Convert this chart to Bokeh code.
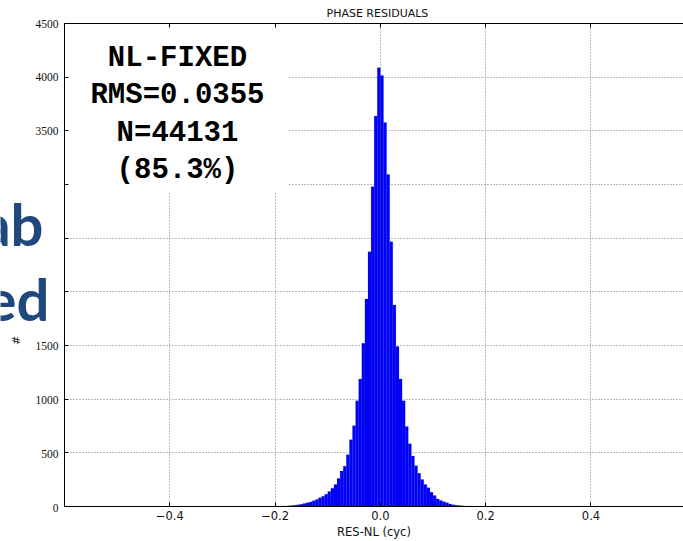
import numpy as np
from bokeh.plotting import figure
from bokeh.layouts import row, column
from bokeh.models import (Range1d, LinearAxis, FixedTicker, BoxAnnotation, Label, LabelSet,
                          ColumnDataSource, Title)
from bokeh.embed import file_html
from bokeh.resources import INLINE

# ---------------- data ----------------
first_edge = -0.2          # left edge of first histogram bin (cycles)
bin_width = 1.0 / 170      # bin width (cycles)
counts = [2, 3, 4, 5, 7, 9, 12, 16, 21, 27, 34, 43, 54, 66, 82, 96, 115, 140, 170, 205,
          260, 330, 375, 483, 623, 753, 985, 1187, 1522, 1934, 2374, 2978, 3638, 4088,
          4016, 3577, 3093, 2467, 1878, 1490, 1187, 985, 745, 585, 470, 380, 310, 251,
          205, 174, 133, 102, 71, 55, 45, 34, 24, 16, 12, 9, 7, 5, 4, 3, 2]
x_ticks = [-0.4, -0.2, 0.0, 0.2, 0.4]
x_tick_labels = ["\u22120.4", "\u22120.2", "0.0", "0.2", "0.4"]
y_ticks = [0, 500, 1000, 1500, 2000, 2500, 3000, 3500, 4000, 4500]
y_hidden = [2000, 2500, 3000]   # labels covered in the original picture
title_text = "PHASE RESIDUALS"
x_label = "RES-NL (cyc)"
y_label = "#"
info_lines = ["NL-FIXED", "RMS=0.0355", "N=44131", "(85.3%)"]
slide_words = ["ab", "ed"]

edges = first_edge + bin_width * np.arange(len(counts) + 1)
src = ColumnDataSource(dict(left=edges[:-1], right=edges[1:], top=counts))
y_shown = [t for t in y_ticks if t not in y_hidden]

# ---------------- layout numbers ----------------
H = 541
LEFT_W = 64
MAIN_W = 683 - LEFT_W
BORDER_TOP, BORDER_BOTTOM = 23, 34
y_lo, y_hi = 0, 4500
frame_h = H - BORDER_TOP - BORDER_BOTTOM
units_per_px = (y_hi - y_lo) / frame_h

# ---------------- main figure ----------------
p = figure(width=MAIN_W, height=H, output_backend="svg", toolbar_location=None,
           x_range=Range1d(-0.6, 0.5757), y_range=Range1d(y_lo, y_hi),
           min_border_left=0, min_border_right=0,
           min_border_top=BORDER_TOP, min_border_bottom=BORDER_BOTTOM)
p.background_fill_color = "white"
p.border_fill_color = "white"
p.outline_line_color = None

p.quad(left="left", right="right", bottom=0, top="top", source=src,
       fill_color="#0000ff", line_color="#000080", line_width=0.5, line_alpha=0.3)

xa = p.xaxis[0]
xa.ticker = FixedTicker(ticks=x_ticks)
xa.major_label_overrides = {t: l for t, l in zip(x_ticks, x_tick_labels)}
xa.axis_line_color = "black"
xa.major_tick_in = 4
xa.major_tick_out = 0
xa.minor_tick_line_color = None
xa.major_label_text_font = "DejaVu Sans"
xa.major_label_text_font_size = "11.5px"
xa.major_label_text_color = "#111111"
xa.major_label_standoff = 4
xa.axis_label = x_label
xa.axis_label_text_font = "DejaVu Sans"
xa.axis_label_text_font_size = "11.5px"
xa.axis_label_text_font_style = "normal"
xa.axis_label_text_color = "#111111"
xa.axis_label_standoff = 2

ya = p.yaxis[0]
ya.ticker = FixedTicker(ticks=[], minor_ticks=y_ticks)
ya.axis_line_color = "black"
ya.major_tick_in = 0
ya.major_tick_out = 0
ya.minor_tick_in = 4
ya.minor_tick_out = 0
ya.minor_tick_line_color = "black"
ya.major_label_standoff = 0

top_axis = LinearAxis(ticker=FixedTicker(ticks=[], minor_ticks=x_ticks),
                      minor_tick_in=4, minor_tick_out=0, minor_tick_line_color="black",
                      major_tick_in=0, major_tick_out=0,
                      major_label_standoff=0, axis_line_color="black")
p.add_layout(top_axis, "above")

for g, ticks in ((p.xgrid, x_ticks), (p.ygrid, y_ticks)):
    g.ticker = FixedTicker(ticks=ticks)
    g.grid_line_color = "#444444"
    g.grid_line_alpha = 0.7
    g.grid_line_dash = "1 2"
    g.grid_line_width = 1

# white text box of the overlaid annotation (hides grid behind it)
p.add_layout(BoxAnnotation(left=-0.6, right=-0.1745, top=y_hi, bottom=2920,
                           fill_color="white", fill_alpha=1.0, line_color=None,
                           level="underlay"))

# title centred over the (uncropped) axes
p.add_layout(Title(text=title_text, align="left", offset=262, standoff=5,
                   vertical_align="middle", text_font="DejaVu Sans",
                   text_font_size="11px", text_font_style="normal",
                   text_color="#111111"), "above")

# overlay annotation text
info_y = [4174, 3826, 3477, 3128]
for txt, yy in zip(info_lines, info_y):
    p.add_layout(Label(x=-0.3854, y=yy, text=txt, text_align="center",
                       text_baseline="alphabetic", text_font="Liberation Mono",
                       text_font_style="bold", text_font_size="29px", text_color="black"))

# ---------------- left strip: y tick labels, y label, slide text ----------------
lf = figure(width=LEFT_W, height=H, output_backend="svg", toolbar_location=None,
            x_axis_type=None, y_axis_type=None,
            x_range=Range1d(0, LEFT_W),
            y_range=Range1d(y_lo - BORDER_BOTTOM * units_per_px,
                            y_hi + BORDER_TOP * units_per_px),
            min_border=0, min_border_left=0, min_border_right=0,
            min_border_top=0, min_border_bottom=0)
lf.outline_line_color = None
lf.background_fill_color = "white"
lf.border_fill_color = "white"

tick_src = ColumnDataSource(dict(y=y_shown, text=[str(t) for t in y_shown],
                                 x=[LEFT_W - 6] * len(y_shown)))
lf.add_layout(LabelSet(x="x", y="y", text="text", source=tick_src,
                       text_align="right", text_baseline="middle",
                       text_font="DejaVu Sans", text_font_size="11.5px",
                       text_color="#111111"))

lf.add_layout(Label(x=16, y=1553, text=y_label, text_align="center",
                    text_baseline="middle", text_font="DejaVu Sans",
                    text_font_size="11px", angle=np.pi / 2, text_color="#111111"))

slide_x = [LEFT_W - 21, LEFT_W - 15]
slide_y = [2645, 1945]
for txt, xx, yy in zip(slide_words, slide_x, slide_y):
    lf.add_layout(Label(x=xx, y=yy, text=txt, text_align="right",
                        text_baseline="alphabetic", text_font="Lato",
                        text_font_style="bold", text_font_size="58px",
                        text_color="#1f497d"))

layout = row(column(lf), p, spacing=0)
open("out.html", "w").write(file_html(layout, INLINE))
